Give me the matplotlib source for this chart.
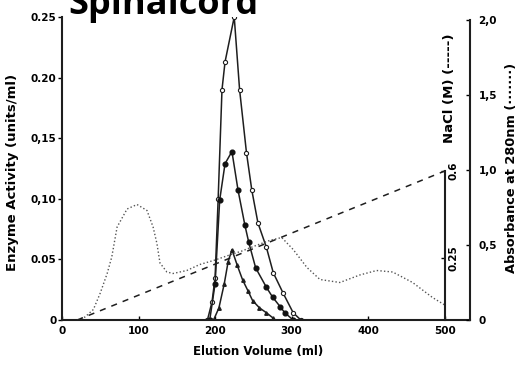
import matplotlib
matplotlib.use("Agg")
import matplotlib.pyplot as plt

plt.rcParams['font.family'] = ['DejaVu Sans']
plt.rcParams['font.weight'] = 'bold'

# Enzyme activity fractions (units/ml) vs elution volume (ml)
vol_open = [190, 196, 200, 204, 209, 213, 225, 232, 241, 248, 256, 267, 276, 289, 302, 312]
act_open = [0, 0.015, 0.035, 0.10, 0.19, 0.213, 0.25, 0.19, 0.138, 0.107, 0.080, 0.060, 0.039, 0.022, 0.006, 0]

vol_filled = [193, 200, 206, 213, 222, 230, 239, 244, 253, 267, 275, 285, 291, 302]
act_filled = [0, 0.03, 0.099, 0.129, 0.139, 0.107, 0.078, 0.064, 0.043, 0.027, 0.019, 0.011, 0.006, 0]

vol_tri = [198, 205, 212, 217, 222, 229, 236, 243, 249, 258, 267, 275]
act_tri = [0, 0.01, 0.03, 0.048, 0.058, 0.045, 0.033, 0.024, 0.016, 0.010, 0.006, 0.002]

# Absorbance at 280 nm
vol_abs = [20, 30, 41, 50, 59, 65, 72, 85, 98, 111, 119, 124, 128, 137, 145, 163, 180, 200,
           217, 235, 250, 271, 287, 302, 320, 337, 363, 389, 411, 432, 458, 484, 500]
abs280 = [0, 0.02, 0.07, 0.18, 0.31, 0.42, 0.62, 0.74, 0.77, 0.73, 0.62, 0.51, 0.38, 0.32, 0.31,
          0.33, 0.37, 0.40, 0.43, 0.46, 0.49, 0.53, 0.55, 0.47, 0.35, 0.27, 0.25, 0.30, 0.33,
          0.32, 0.25, 0.15, 0.10]

# NaCl gradient (M)
vol_nacl = [20, 500]
nacl = [0, 0.6]

x_ticks = [0, 100, 200, 300, 400, 500]
act_ticks = [0, 0.05, 0.10, 0.15, 0.20, 0.25]
act_labels = ['0', '0.05', '0,10', '0,15', '0.20', '0.25']
abs_ticks = [0, 0.5, 1.0, 1.5, 2.0]
abs_labels = ['0', '0,5', '1,0', '1,5', '2,0']
nacl_ticks = [0.25, 0.6]
nacl_labels = ['0.25', '0.6']

TICK_FS = 7.5
W, H = 521, 367


def fx(px):
    return px / W


def fy(py):
    return 1 - py / H


fig = plt.figure(figsize=(5.21, 3.67), dpi=100)
ax = fig.add_axes([fx(62), fy(320), 408 / W, 303 / H])

xmax = 533
ax.set_xlim(0, xmax)
ax.set_ylim(0, 0.25)

ink = '#1e1e1e'
lw = 1.1
ax.plot(vol_open, act_open, color=ink, lw=lw, marker='o', ms=3,
        mfc='white', mec=ink, mew=0.8)
ax.plot(vol_filled, act_filled, color=ink, lw=lw, marker='o', ms=3.4,
        mfc='#111111', mec='#111111')
ax.plot(vol_tri, act_tri, color=ink, lw=lw, marker='^', ms=2.5,
        mfc=ink, mec=ink)

for s in ['top', 'right']:
    ax.spines[s].set_visible(False)
for s in ['left', 'bottom']:
    ax.spines[s].set_linewidth(1.5)
    ax.spines[s].set_color(ink)

ax.set_xticks(x_ticks)
ax.set_xticklabels([str(v) for v in x_ticks], fontsize=TICK_FS, fontweight='bold')
ax.tick_params(axis='x', direction='in', length=3, width=1, pad=4)
ax.set_yticks(act_ticks)
ax.set_yticklabels(act_labels, fontsize=TICK_FS, fontweight='bold')
ax.tick_params(axis='y', direction='out', length=3, width=1, pad=1)

# Absorbance axis on the far right
ax_abs = ax.twinx()
ax_abs.set_ylim(0, 2.02)
ax_abs.plot(vol_abs, abs280, color='#555555', lw=1.0, ls=(0, (1, 1.6)))
for s in ['top', 'left', 'bottom']:
    ax_abs.spines[s].set_visible(False)
ax_abs.spines['right'].set_linewidth(1.5)
ax_abs.spines['right'].set_color(ink)
ax_abs.spines['right'].set_bounds(0, 2.0)
ax_abs.set_yticks(abs_ticks)
ax_abs.set_yticklabels(abs_labels, fontsize=TICK_FS, fontweight='bold')
ax_abs.tick_params(axis='y', direction='in', length=3, width=1, pad=6)

# NaCl axis placed at 500 ml
ax_na = ax.twinx()
ax_na.set_ylim(0, 0.6 * 303 / 149)
ax_na.plot(vol_nacl, nacl, color=ink, lw=1.1, ls=(0, (4, 4)))
for s in ['top', 'left', 'bottom']:
    ax_na.spines[s].set_visible(False)
ax_na.spines['right'].set_position(('axes', 500 / xmax))
ax_na.spines['right'].set_bounds(0, 0.6)
ax_na.spines['right'].set_linewidth(1.5)
ax_na.spines['right'].set_color(ink)
ax_na.set_yticks(nacl_ticks)
ax_na.set_yticklabels(nacl_labels, fontsize=TICK_FS, fontweight='bold', rotation=90,
                      va='center')
ax_na.tick_params(axis='y', direction='in', length=3, width=1, pad=3)

# Axis titles
fig.text(fx(258), fy(352), 'Elution Volume (ml)', fontsize=8.5, fontweight='bold',
         ha='center', va='center')
fig.text(fx(13), fy(172), 'Enzyme Activity (units/ml)', rotation=90, fontsize=9.5,
         fontweight='bold', ha='center', va='center')
fig.text(fx(450), fy(88), 'NaCl (M) (-----)', rotation=90, fontsize=9.5,
         fontweight='bold', ha='center', va='center')
fig.text(fx(511), fy(168), 'Absorbance at 280nm (·······)', rotation=90, fontsize=9.3,
         fontweight='bold', ha='center', va='center')

fig.text(fx(68), fy(14), 'Spinalcord', fontsize=26, fontweight='bold',
         family=['Open Sans', 'DejaVu Sans'], ha='left', va='baseline')

fig.savefig('out.png', dpi=100)
